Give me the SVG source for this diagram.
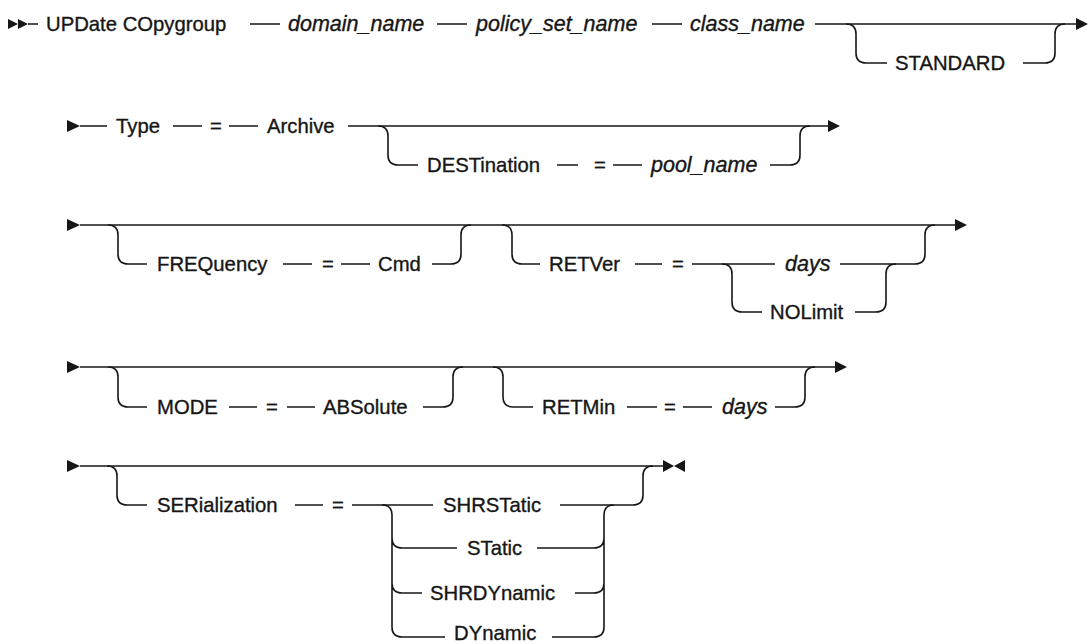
<svg xmlns="http://www.w3.org/2000/svg" width="1088" height="644" viewBox="0 0 1088 644">
<style>
.t{font-family:"Liberation Sans",Arial,sans-serif;font-size:20.3px;fill:#161616;stroke:#161616;stroke-width:0.35}
.i{font-style:italic;font-size:21.5px}
.c{fill:none;stroke:#161616;stroke-width:1.6}
.a{fill:#161616;stroke:none}
</style>
<rect width="1088" height="644" fill="#ffffff"/>
<g id="connectors">
<polygon class="a" points="8,19 18,24 8,29"/>
<polygon class="a" points="18,19 28,24 18,29"/>
<path class="c" d="M28 24H38M250 24H280M437 24H467M652 24H682M815 24H1077"/>
<polygon class="a" points="1076,18 1088,24 1076,30"/>
<path class="c" d="M846 24Q856 24 856 34V53Q856 63 866 63H887M1023 63H1045Q1055 63 1055 53V34Q1055 24 1065 24"/>
<polygon class="a" points="67,120 80,126 67,132"/>
<path class="c" d="M80 126H107M173 126H202M229 126H258M348 126H829"/>
<polygon class="a" points="828,120 840,126 828,132"/>
<path class="c" d="M378 126Q388 126 388 136V155Q388 165 398 165H418M557 165H578M613 165H642M770 165H790Q800 165 800 155V136Q800 126 810 126"/>
<polygon class="a" points="67,219 80,225 67,231"/>
<path class="c" d="M80 225H956"/>
<polygon class="a" points="955,219 967,225 955,231"/>
<path class="c" d="M108 225Q118 225 118 235V254Q118 264 128 264H147M283 264H312M341 264H370M432 264H451Q461 264 461 254V235Q461 225 471 225"/>
<path class="c" d="M502 225Q512 225 512 235V254Q512 264 522 264H540M635 264H662M692 264H775M840 264H915Q925 264 925 254V235Q925 225 935 225"/>
<path class="c" d="M722 264Q732 264 732 274V302Q732 312 742 312H762M855 312H876Q886 312 886 302V274Q886 264 896 264"/>
<polygon class="a" points="67,361 80,367 67,373"/>
<path class="c" d="M80 367H836"/>
<polygon class="a" points="835,361 847,367 835,373"/>
<path class="c" d="M108 367Q118 367 118 377V397Q118 407 128 407H147M229 407H257M287 407H315M423 407H443Q453 407 453 397V377Q453 367 463 367"/>
<path class="c" d="M493 367Q503 367 503 377V397Q503 407 513 407H533M627 407H657M683 407H712M775 407H795Q805 407 805 397V377Q805 367 815 367"/>
<polygon class="a" points="67,460 80,466 67,472"/>
<path class="c" d="M80 466H664"/>
<polygon class="a" points="663,460 674,466 663,472"/>
<polygon class="a" points="685,460 674,466 685,472"/>
<path class="c" d="M107 466Q117 466 117 476V495Q117 505 127 505H147M295 505H323M352 505H433M560 505H633Q643 505 643 495V476Q643 466 653 466"/>
<path class="c" d="M382 505Q392 505 392 515V627Q392 637 402 637H445M392 538Q392 548 402 548H457M392 583Q392 593 402 593H422"/>
<path class="c" d="M552 637H594Q604 637 604 627V515Q604 505 614 505M537 548H594Q604 548 604 538M575 593H594Q604 593 604 583"/>
</g>
<g id="n-updatecopygroup"><text class="t" x="46" y="31">UPDate COpygroup</text></g>
<g id="n-domain_name"><text class="t i" x="288" y="31">domain_name</text></g>
<g id="n-policy_set_name"><text class="t i" x="476" y="31">policy_set_name</text></g>
<g id="n-class_name"><text class="t i" x="690" y="31">class_name</text></g>
<g id="n-standard"><text class="t" x="895" y="70">STANDARD</text></g>
<g id="n-type"><text class="t" x="116" y="133">Type</text></g>
<g id="n-eq1"><text class="t" x="210" y="133">=</text></g>
<g id="n-archive"><text class="t" x="267" y="133">Archive</text></g>
<g id="n-destination"><text class="t" x="427" y="172">DESTination</text></g>
<g id="n-eq2"><text class="t" x="594" y="172">=</text></g>
<g id="n-pool_name"><text class="t i" x="651" y="172">pool_name</text></g>
<g id="n-frequency"><text class="t" x="157" y="271">FREQuency</text></g>
<g id="n-eq3"><text class="t" x="322" y="271">=</text></g>
<g id="n-cmd"><text class="t" x="378" y="271">Cmd</text></g>
<g id="n-retver"><text class="t" x="549" y="271">RETVer</text></g>
<g id="n-eq4"><text class="t" x="672" y="271">=</text></g>
<g id="n-days1"><text class="t i" x="785" y="271">days</text></g>
<g id="n-nolimit"><text class="t" x="770" y="319">NOLimit</text></g>
<g id="n-mode"><text class="t" x="157" y="414">MODE</text></g>
<g id="n-eq5"><text class="t" x="266" y="414">=</text></g>
<g id="n-absolute"><text class="t" x="323" y="414">ABSolute</text></g>
<g id="n-retmin"><text class="t" x="542" y="414">RETMin</text></g>
<g id="n-eq6"><text class="t" x="664" y="414">=</text></g>
<g id="n-days2"><text class="t i" x="722" y="414">days</text></g>
<g id="n-serialization"><text class="t" x="157" y="512">SERialization</text></g>
<g id="n-eq7"><text class="t" x="332" y="512">=</text></g>
<g id="n-shrstatic"><text class="t" x="443" y="512">SHRSTatic</text></g>
<g id="n-static"><text class="t" x="467" y="555">STatic</text></g>
<g id="n-shrdynamic"><text class="t" x="430" y="600">SHRDYnamic</text></g>
<g id="n-dynamic"><text class="t" x="454" y="640">DYnamic</text></g>
</svg>
